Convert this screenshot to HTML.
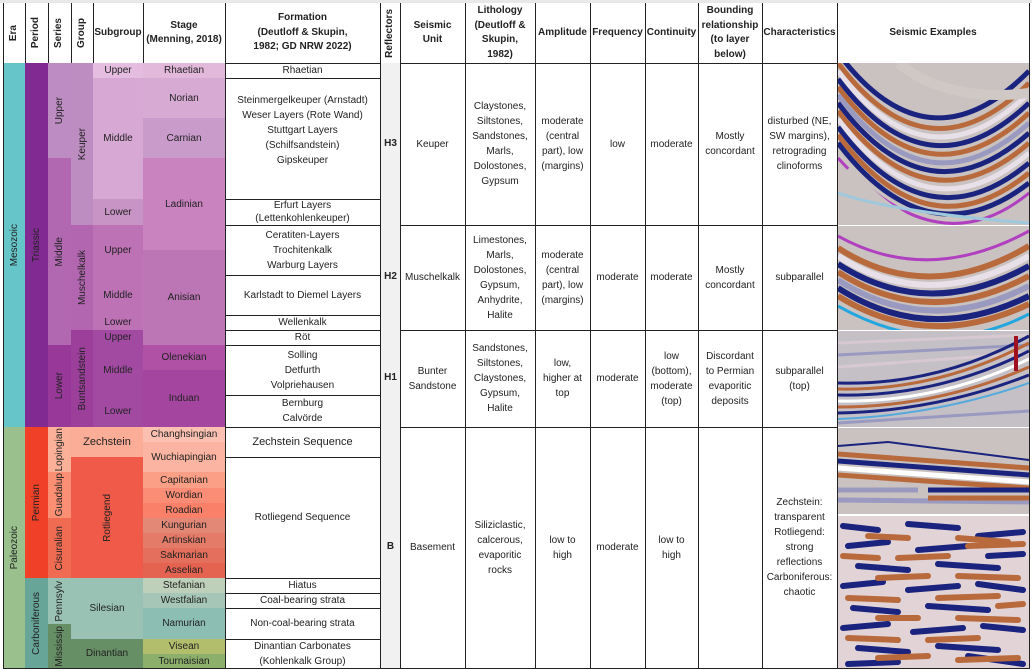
<!DOCTYPE html><html><head><meta charset="utf-8"><style>
body{margin:0;width:1032px;height:670px;background:#fff;position:relative;overflow:hidden;font-family:"Liberation Sans",sans-serif;font-size:10px;color:#222}
.c{position:absolute;box-sizing:border-box;border-right:1px solid #222;border-bottom:1px solid #222;display:flex;align-items:center;justify-content:center;text-align:center;line-height:15px;overflow:hidden}
.v{writing-mode:vertical-rl;transform:rotate(180deg)}
.h{font-weight:bold;line-height:14.5px}
svg{position:absolute}
</style></head><body>
<div style="position:absolute;left:0;top:0;width:1032px;height:3px;background:#e8e8e8"></div>
<!-- header -->
<div class="c h" style="left:3px;top:3px;width:23px;height:61px;border-left:1px solid #222"><span class="v">Era</span></div>
<div class="c h" style="left:25px;top:3px;width:24px;height:61px"><span class="v">Period</span></div>
<div class="c h" style="left:48px;top:3px;width:24px;height:61px"><span class="v">Series</span></div>
<div class="c h" style="left:71px;top:3px;width:23px;height:61px"><span class="v">Group</span></div>
<div class="c h" style="left:93px;top:3px;width:51px;height:61px">Subgroup</div>
<div class="c h" style="left:143px;top:3px;width:83px;height:61px">Stage<br>(Menning, 2018)</div>
<div class="c h" style="left:225px;top:3px;width:156px;height:61px">Formation<br>(Deutloff &amp; Skupin,<br>1982; GD NRW 2022)</div>
<div class="c h" style="left:380px;top:3px;width:21px;height:61px"><span class="v">Reflectors</span></div>
<div class="c h" style="left:400px;top:3px;width:66px;height:61px">Seismic<br>Unit</div>
<div class="c h" style="left:465px;top:3px;width:71px;height:61px">Lithology<br>(Deutloff &amp;<br>Skupin,<br>1982)</div>
<div class="c h" style="left:535px;top:3px;width:56px;height:61px">Amplitude</div>
<div class="c h" style="left:590px;top:3px;width:56px;height:61px">Frequency</div>
<div class="c h" style="left:645px;top:3px;width:54px;height:61px">Continuity</div>
<div class="c h" style="left:698px;top:3px;width:65px;height:61px">Bounding<br>relationship<br>(to layer<br>below)</div>
<div class="c h" style="left:762px;top:3px;width:76px;height:61px">Characteristics</div>
<div class="c h" style="left:837px;top:3px;width:193px;height:61px">Seismic Examples</div>
<!-- era/period/series -->
<div class="c" style="left:3px;top:63px;width:23px;height:365px;background:#66c5c8;border-left:1px solid #222"><span class="v">Mesozoic</span></div>
<div class="c" style="left:3px;top:427px;width:23px;height:242px;background:#99c08d;border-left:1px solid #222"><span class="v">Paleozoic</span></div>
<div class="c" style="left:25px;top:63px;width:24px;height:365px;background:#812b92"><span class="v">Triassic</span></div>
<div class="c" style="left:25px;top:427px;width:24px;height:152px;background:#f04028"><span class="v">Permian</span></div>
<div class="c" style="left:25px;top:578px;width:24px;height:91px;background:#67a599"><span class="v">Carboniferous</span></div>
<div class="c" style="left:48px;top:63px;width:24px;height:96px;background:#bd8cc3"><span class="v">Upper</span></div>
<div class="c" style="left:48px;top:158px;width:24px;height:188px;background:#b168b1"><span class="v">Middle</span></div>
<div class="c" style="left:48px;top:345px;width:24px;height:83px;background:#983999"><span class="v">Lower</span></div>
<div class="c" style="left:48px;top:427px;width:24px;height:46px;background:#fbb09a"><span class="v">Lopingian</span></div>
<div class="c" style="left:48px;top:472px;width:24px;height:47px;background:#fb8f74"><span class="v">Guadalup</span></div>
<div class="c" style="left:48px;top:518px;width:24px;height:61px;background:#ef6b52"><span class="v">Cisuralian</span></div>
<div class="c" style="left:48px;top:578px;width:24px;height:47px;background:#99c2b5"><span class="v">Pennsylv</span></div>
<div class="c" style="left:48px;top:624px;width:24px;height:45px;background:#678f66"><span class="v">Mississip</span></div>
<!-- groups -->
<div class="c" style="left:71px;top:63px;width:23px;height:163px;background:#bd8cc0"><span class="v">Keuper</span></div>
<div class="c" style="left:71px;top:225px;width:23px;height:106px;background:#b266b0"><span class="v">Muschelkalk</span></div>
<div class="c" style="left:71px;top:330px;width:23px;height:98px;background:#9c3f9a"><span class="v">Buntsandstein</span></div>
<!-- subgroups -->
<div class="c" style="left:93px;top:63px;width:51px;height:16px;background:#e4bde0">Upper</div>
<div class="c" style="left:93px;top:78px;width:51px;height:122px;background:#d8a8d5">Middle</div>
<div class="c" style="left:93px;top:199px;width:51px;height:27px;background:#c894c5">Lower</div>
<div class="c" style="left:93px;top:225px;width:51px;height:51px;background:#bd72b6">Upper</div>
<div class="c" style="left:93px;top:275px;width:51px;height:41px;background:#bd72b6">Middle</div>
<div class="c" style="left:93px;top:315px;width:51px;height:16px;background:#bd72b6">Lower</div>
<div class="c" style="left:93px;top:330px;width:51px;height:16px;background:#a24aa2">Upper</div>
<div class="c" style="left:93px;top:345px;width:51px;height:51px;background:#a24aa2">Middle</div>
<div class="c" style="left:93px;top:395px;width:51px;height:33px;background:#a24aa2">Lower</div>
<div class="c" style="left:71px;top:427px;width:73px;height:31px;background:#fcad98;font-size:11px">Zechstein</div>
<div class="c" style="left:71px;top:457px;width:73px;height:122px;background:#ef5b48"><span class="v">Rotliegend</span></div>
<div class="c" style="left:71px;top:578px;width:73px;height:62px;background:#99c2b5">Silesian</div>
<div class="c" style="left:71px;top:639px;width:73px;height:30px;background:#678f66">Dinantian</div>
<!-- stages -->
<div class="c" style="left:143px;top:63px;width:83px;height:16px;background:#e3b9db">Rhaetian</div>
<div class="c" style="left:143px;top:78px;width:83px;height:41px;background:#d6aad3">Norian</div>
<div class="c" style="left:143px;top:118px;width:83px;height:41px;background:#c99bcb">Carnian</div>
<div class="c" style="left:143px;top:158px;width:83px;height:93px;background:#c983bf">Ladinian</div>
<div class="c" style="left:143px;top:250px;width:83px;height:96px;background:#bc75b5">Anisian</div>
<div class="c" style="left:143px;top:345px;width:83px;height:26px;background:#b051a5">Olenekian</div>
<div class="c" style="left:143px;top:370px;width:83px;height:58px;background:#a4469f">Induan</div>
<div class="c" style="left:143px;top:427px;width:83px;height:16px;background:#fcc0b2">Changhsingian</div>
<div class="c" style="left:143px;top:442px;width:83px;height:31px;background:#fcb4a2">Wuchiapingian</div>
<div class="c" style="left:143px;top:472px;width:83px;height:17px;background:#fb9f87">Capitanian</div>
<div class="c" style="left:143px;top:488px;width:83px;height:16px;background:#fb8d76">Wordian</div>
<div class="c" style="left:143px;top:503px;width:83px;height:16px;background:#fb8069">Roadian</div>
<div class="c" style="left:143px;top:518px;width:83px;height:16px;background:#e38776">Kungurian</div>
<div class="c" style="left:143px;top:533px;width:83px;height:16px;background:#e37b68">Artinskian</div>
<div class="c" style="left:143px;top:548px;width:83px;height:16px;background:#e36f5c">Sakmarian</div>
<div class="c" style="left:143px;top:563px;width:83px;height:16px;background:#e36350">Asselian</div>
<div class="c" style="left:143px;top:578px;width:83px;height:16px;background:#bfd0ba">Stefanian</div>
<div class="c" style="left:143px;top:593px;width:83px;height:16px;background:#a6c7b7">Westfalian</div>
<div class="c" style="left:143px;top:608px;width:83px;height:32px;background:#8cbeb4">Namurian</div>
<div class="c" style="left:143px;top:639px;width:83px;height:16px;background:#b3be6c">Visean</div>
<div class="c" style="left:143px;top:654px;width:83px;height:15px;background:#8cb06c">Tournaisian</div>
<!-- formations -->
<div class="c" style="left:225px;top:63px;width:156px;height:16px">Rhaetian</div>
<div class="c" style="left:225px;top:78px;width:156px;height:122px;padding-bottom:16px">Steinmergelkeuper (Arnstadt)<br>Weser Layers (Rote Wand)<br>Stuttgart Layers<br>(Schilfsandstein)<br>Gipskeuper</div>
<div class="c" style="left:225px;top:199px;width:156px;height:27px;line-height:13px">Erfurt Layers<br>(Lettenkohlenkeuper)</div>
<div class="c" style="left:225px;top:225px;width:156px;height:51px">Ceratiten-Layers<br>Trochitenkalk<br>Warburg Layers</div>
<div class="c" style="left:225px;top:275px;width:156px;height:41px">Karlstadt to Diemel Layers</div>
<div class="c" style="left:225px;top:315px;width:156px;height:16px">Wellenkalk</div>
<div class="c" style="left:225px;top:330px;width:156px;height:16px">Röt</div>
<div class="c" style="left:225px;top:345px;width:156px;height:51px">Solling<br>Detfurth<br>Volpriehausen</div>
<div class="c" style="left:225px;top:395px;width:156px;height:33px">Bernburg<br>Calvörde</div>
<div class="c" style="left:225px;top:427px;width:156px;height:31px;font-size:11px">Zechstein Sequence</div>
<div class="c" style="left:225px;top:457px;width:156px;height:122px">Rotliegend Sequence</div>
<div class="c" style="left:225px;top:578px;width:156px;height:16px">Hiatus</div>
<div class="c" style="left:225px;top:593px;width:156px;height:16px">Coal-bearing strata</div>
<div class="c" style="left:225px;top:608px;width:156px;height:32px">Non-coal-bearing strata</div>
<div class="c" style="left:225px;top:639px;width:156px;height:30px">Dinantian Carbonates<br>(Kohlenkalk Group)</div>
<!-- right columns -->
<div class="c h" style="left:380px;top:63px;width:21px;height:163px;background:#f1f1f1;border-left:1px solid #222">H3</div>
<div class="c h" style="left:380px;top:225px;width:21px;height:106px;background:#f1f1f1;border-left:1px solid #222">H2</div>
<div class="c h" style="left:380px;top:330px;width:21px;height:98px;background:#f1f1f1;border-left:1px solid #222">H1</div>
<div class="c h" style="left:380px;top:427px;width:21px;height:242px;background:#f1f1f1;border-left:1px solid #222">B</div>
<div class="c" style="left:400px;top:63px;width:66px;height:163px">Keuper</div>
<div class="c" style="left:400px;top:225px;width:66px;height:106px">Muschelkalk</div>
<div class="c" style="left:400px;top:330px;width:66px;height:98px">Bunter<br>Sandstone</div>
<div class="c" style="left:400px;top:427px;width:66px;height:242px">Basement</div>
<div class="c" style="left:465px;top:63px;width:71px;height:163px">Claystones,<br>Siltstones,<br>Sandstones,<br>Marls,<br>Dolostones,<br>Gypsum</div>
<div class="c" style="left:465px;top:225px;width:71px;height:106px">Limestones,<br>Marls,<br>Dolostones,<br>Gypsum,<br>Anhydrite,<br>Halite</div>
<div class="c" style="left:465px;top:330px;width:71px;height:98px">Sandstones,<br>Siltstones,<br>Claystones,<br>Gypsum,<br>Halite</div>
<div class="c" style="left:465px;top:427px;width:71px;height:242px">Siliziclastic,<br>calcerous,<br>evaporitic<br>rocks</div>
<div class="c" style="left:535px;top:63px;width:56px;height:163px">moderate<br>(central<br>part), low<br>(margins)</div>
<div class="c" style="left:535px;top:225px;width:56px;height:106px">moderate<br>(central<br>part), low<br>(margins)</div>
<div class="c" style="left:535px;top:330px;width:56px;height:98px">low,<br>higher at<br>top</div>
<div class="c" style="left:535px;top:427px;width:56px;height:242px">low to<br>high</div>
<div class="c" style="left:590px;top:63px;width:56px;height:163px">low</div>
<div class="c" style="left:590px;top:225px;width:56px;height:106px">moderate</div>
<div class="c" style="left:590px;top:330px;width:56px;height:98px">moderate</div>
<div class="c" style="left:590px;top:427px;width:56px;height:242px">moderate</div>
<div class="c" style="left:645px;top:63px;width:54px;height:163px">moderate</div>
<div class="c" style="left:645px;top:225px;width:54px;height:106px">moderate</div>
<div class="c" style="left:645px;top:330px;width:54px;height:98px">low<br>(bottom),<br>moderate<br>(top)</div>
<div class="c" style="left:645px;top:427px;width:54px;height:242px">low to<br>high</div>
<div class="c" style="left:698px;top:63px;width:65px;height:163px">Mostly<br>concordant</div>
<div class="c" style="left:698px;top:225px;width:65px;height:106px">Mostly<br>concordant</div>
<div class="c" style="left:698px;top:330px;width:65px;height:98px">Discordant<br>to Permian<br>evaporitic<br>deposits</div>
<div class="c" style="left:698px;top:427px;width:65px;height:242px"></div>
<div class="c" style="left:762px;top:63px;width:76px;height:163px">disturbed (NE,<br>SW margins),<br>retrograding<br>clinoforms</div>
<div class="c" style="left:762px;top:225px;width:76px;height:106px">subparallel</div>
<div class="c" style="left:762px;top:330px;width:76px;height:98px">subparallel<br>(top)</div>
<div class="c" style="left:762px;top:427px;width:76px;height:242px">Zechstein:<br>transparent<br>Rotliegend:<br>strong<br>reflections<br>Carboniferous:<br>chaotic</div>
<div class="c" style="left:837px;top:63px;width:193px;height:606px"></div>
<!-- seismic -->
<svg style="left:838px;top:63px" width="191" height="162" viewBox="0 0 191 162">
<rect width="191" height="162" fill="#c9c2c0"/>
<g fill="none" stroke-width="5">
<path d="M0,-10 Q90,110 191,8" stroke="#1a237e"/>
<path d="M0,0 Q90,120 191,20" stroke="#b86a3c"/><path d="M0,8 Q90,128 191,30" stroke="#e8e0e8"/><path d="M0,16 Q90,136 191,40" stroke="#1a237e"/>
<path d="M0,24 Q90,144 191,50" stroke="#b86a3c"/><path d="M0,32 Q90,152 191,60" stroke="#9a9ac0"/>
<path d="M0,40 Q90,160 191,70" stroke="#1a237e"/><path d="M0,48 Q90,168 191,80" stroke="#b86a3c"/>
<path d="M0,56 Q90,176 191,90" stroke="#e8e0e8"/><path d="M0,64 Q90,184 191,100" stroke="#1a237e"/>
<path d="M0,72 Q90,192 191,110" stroke="#b86a3c"/><path d="M0,80 Q90,198 191,120" stroke="#1a237e"/>
<path d="M0,95 Q100,205 191,130" stroke="#b040c0" stroke-width="3"/>
<path d="M0,115 Q100,225 191,155" stroke="#c9c2c0" stroke-width="34"/>
<path d="M0,130 Q60,150 191,160" stroke="#9fc8dc" stroke-width="3"/>
<path d="M60,0 Q110,40 191,30" stroke="#d0c8c4" stroke-width="10"/>
</g></svg>
<svg style="left:838px;top:226px" width="191" height="104" viewBox="0 0 191 104">
<rect width="191" height="104" fill="#c9c2c0"/>
<g fill="none" stroke-width="6">
<path d="M0,10 Q90,60 191,5" stroke="#b040c0" stroke-width="3"/>
<path d="M0,22 Q90,80 191,20" stroke="#b86a3c"/><path d="M0,30 Q90,88 191,30" stroke="#e8e0e8"/><path d="M0,38 Q90,96 191,40" stroke="#1a237e"/>
<path d="M0,46 Q90,104 191,50" stroke="#b86a3c"/><path d="M0,54 Q90,112 191,60" stroke="#9a9ac0"/>
<path d="M0,62 Q90,120 191,70" stroke="#1a237e"/><path d="M0,70 Q90,126 191,78" stroke="#b86a3c"/>
<path d="M0,80 Q100,136 191,88" stroke="#22a6e0" stroke-width="3"/>
</g></svg>
<svg style="left:838px;top:331px" width="191" height="96" viewBox="0 0 191 96">
<rect width="191" height="96" fill="#c4c0c6"/>
<g fill="none" stroke-width="3">
<path d="M0,12 L191,4" stroke="#d8c8d0"/><path d="M0,24 L191,14" stroke="#9a9ac0"/><path d="M0,36 L191,22" stroke="#d8c8d0"/>
<path d="M0,52 Q100,55 191,5" stroke="#1a237e"/><path d="M0,58 Q100,60 191,12" stroke="#b86a3c"/>
<path d="M0,64 Q100,66 191,20" stroke="#1a237e"/><path d="M0,70 Q100,72 191,28" stroke="#fff"/>
<path d="M0,76 Q100,76 191,36" stroke="#b86a3c"/><path d="M0,82 Q100,80 191,44" stroke="#1a237e"/>
<path d="M0,88 Q100,84 191,52" stroke="#5ad" stroke-width="2"/>
<path d="M0,92 L191,80" stroke="#9a9ac0"/>
</g><rect x="176" y="5" width="4" height="35" fill="#a01020"/></svg>
<svg style="left:838px;top:428px" width="191" height="86" viewBox="0 0 191 86">
<rect width="191" height="86" fill="#c9c2c0"/>
<g fill="none" stroke-width="5">
<path d="M0,18 L50,14 L191,32" stroke="#1a237e" stroke-width="2"/>
<path d="M0,26 L191,40" stroke="#b86a3c"/><path d="M0,33 L191,47" stroke="#1a237e"/>
<path d="M0,40 L191,54" stroke="#fff"/><path d="M0,47 L191,60" stroke="#b86a3c"/>
<path d="M0,62 L80,62" stroke="#9a9ac0"/><path d="M0,72 L191,74" stroke="#9a9ac0"/>
<path d="M90,62 L191,62" stroke="#1a237e"/><path d="M90,70 L191,70" stroke="#b86a3c"/>
</g></svg>
<svg style="left:838px;top:516px" width="191" height="152" viewBox="0 0 191 152">
<rect width="191" height="152" fill="#e2d4d6"/>
<g stroke-width="6" stroke-linecap="round">
<path d="M5,10 L40,14 M70,8 L120,12 M140,20 L185,16 M10,30 L50,26 M80,34 L130,30 M20,50 L70,54 M100,48 L160,52 M5,70 L45,66 M70,74 L120,70 M140,68 L185,74 M15,92 L60,96 M90,90 L150,94 M5,112 L50,108 M75,116 L125,112 M145,110 L185,114 M20,132 L70,136 M100,130 L160,134 M10,148 L60,146 M150,40 L185,38 M130,140 L185,148" stroke="#1a237e"/>
<path d="M30,20 L70,22 M120,22 L170,26 M5,40 L40,42 M60,42 L110,40 M130,30 L185,28 M40,62 L90,60 M120,60 L180,62 M10,82 L60,84 M100,82 L160,80 M40,102 L80,102 M120,102 L180,104 M10,122 L60,124 M90,124 L140,122 M40,142 L90,140 M120,144 L180,142 M160,90 L185,88" stroke="#b86a3c"/>
</g></svg>
</body></html>
